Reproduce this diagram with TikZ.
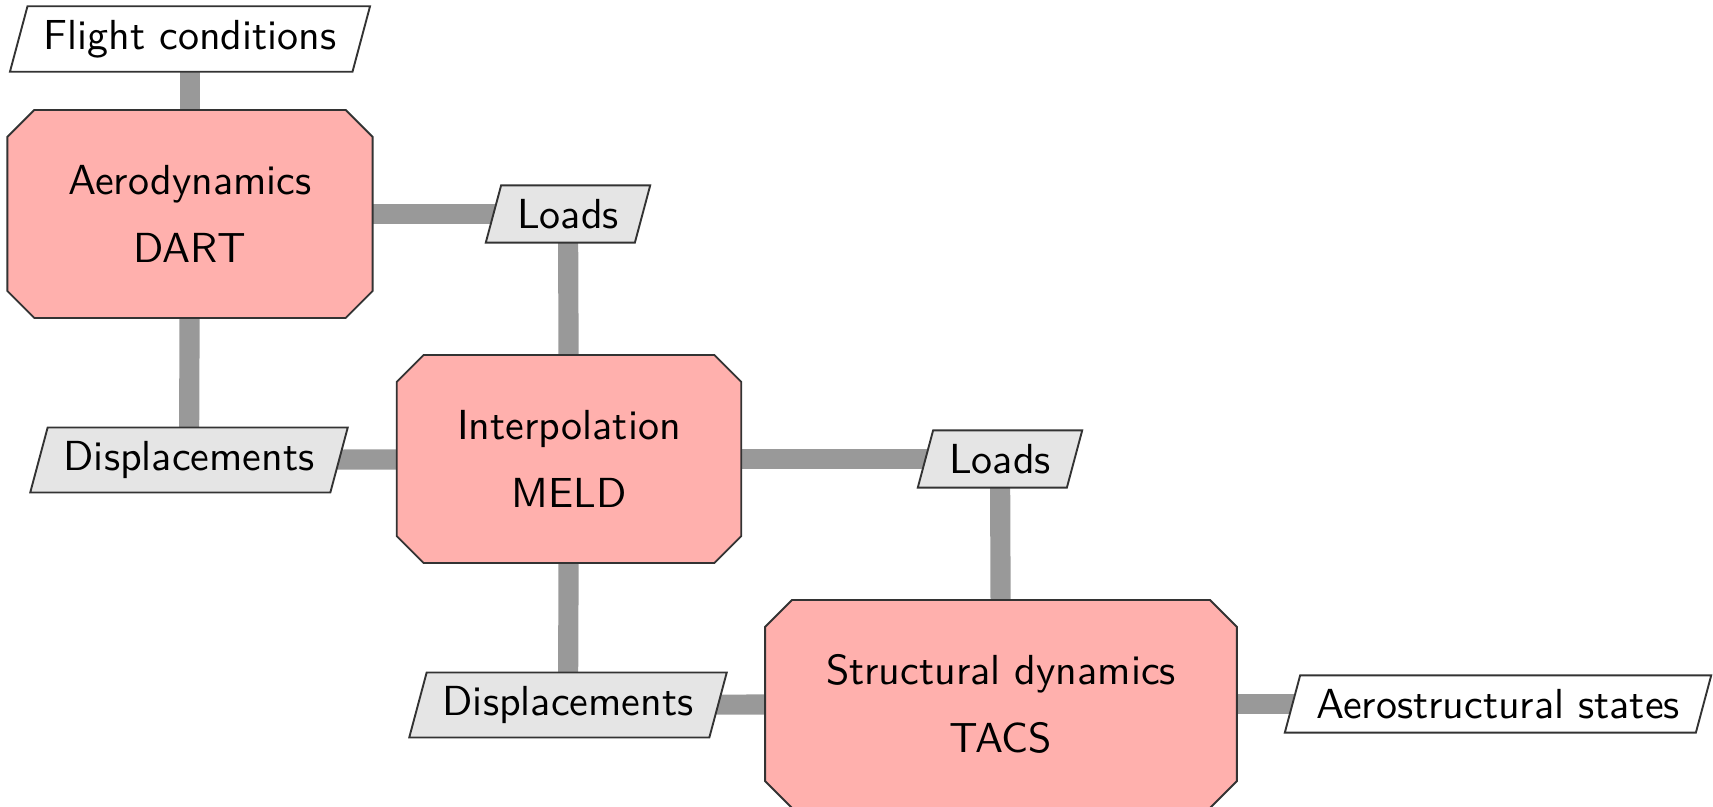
\documentclass[tikz,border=0pt]{standalone}
\usetikzlibrary{shapes.misc,shapes.geometric,backgrounds}
\definecolor{procfill}{HTML}{FFB0AD}
\begin{document}
\begin{tikzpicture}[x=0.238pt,y=-0.238pt,
  font=\sffamily,
  proc/.style={chamfered rectangle, chamfered rectangle xsep=3.2pt, chamfered rectangle ysep=3.2pt,
    draw=black!80, line width=0.45pt, fill=procfill, minimum height=49.5pt, inner xsep=0pt, align=center},
  datablk/.style={trapezium, trapezium left angle=75, trapezium right angle=105,
    draw=black!80, line width=0.45pt, fill=gray!20, inner xsep=3.8pt, inner ysep=3.3pt},
  inblk/.style={datablk, fill=white},
  link/.style={line width=4.8pt, draw=black!40}]
\useasboundingbox (0,0) rectangle (1713,807);
\node[inblk] (fc) at (190,39) {Flight conditions};
\node[proc, minimum width=86.9pt] (dart) at (190,214) {Aerodynamics\\[4pt]DART};
\node[datablk] (loadsA) at (568,214) {Loads};
\node[datablk] (dispA) at (189,460) {Displacements};
\node[proc, minimum width=82pt] (meld) at (569,459) {Interpolation\\[4pt]MELD};
\node[datablk] (loadsB) at (1000,459) {Loads};
\node[datablk] (dispB) at (568,705) {Displacements};
\node[proc, minimum width=112.3pt] (tacs) at (1001,704) {Structural dynamics\\[4pt]TACS};
\node[inblk] (aero) at (1498,704) {Aerostructural states};
\begin{scope}[on background layer]
\draw[link] (fc.center) -- (dart.center);
\draw[link] (dart.center) -- (loadsA.center);
\draw[link] (loadsA.center) -- (meld.center);
\draw[link] (dart.center) -- (dispA.center);
\draw[link] (dispA.center) -- (meld.center);
\draw[link] (meld.center) -- (loadsB.center);
\draw[link] (loadsB.center) -- (tacs.center);
\draw[link] (meld.center) -- (dispB.center);
\draw[link] (dispB.center) -- (tacs.center);
\draw[link] (tacs.center) -- (aero.center);
\end{scope}
\end{tikzpicture}
\end{document}
